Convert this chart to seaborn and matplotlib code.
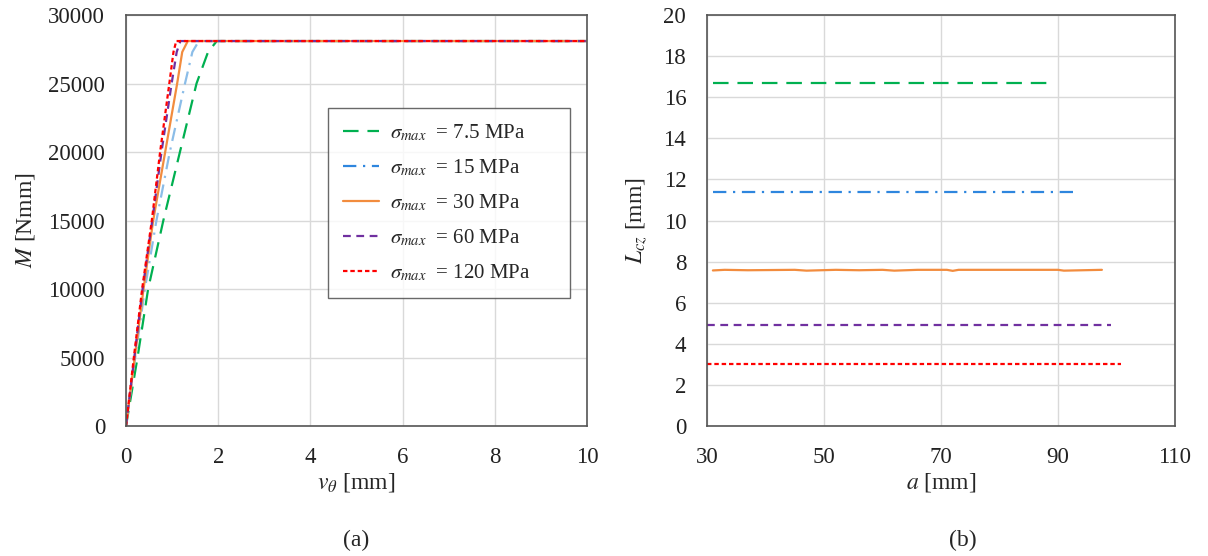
import numpy as np
import pandas as pd
import matplotlib
matplotlib.use("Agg")
import matplotlib.pyplot as plt
from matplotlib.lines import Line2D
import seaborn as sns

# ---- data ----
labels = [r"$\sigma_{max}\ $ = 7.5 MPa", r"$\sigma_{max}\ $ = 15 MPa", r"$\sigma_{max}\ $ = 30 MPa",
          r"$\sigma_{max}\ $ = 60 MPa", r"$\sigma_{max}\ $ = 120 MPa"]

# (a) M vs v_theta
m_levels = [0, 5000, 10000, 15000, 20000, 25000, 27300, 28100, 28100]
v_green = [0, 0.25, 0.48, 0.81, 1.17, 1.53, 1.78, 1.97, 10]
v_blue = [0, 0.20, 0.41, 0.66, 0.95, 1.28, 1.44, 1.58, 10]
v_orange = [0, 0.19, 0.38, 0.59, 0.85, 1.11, 1.22, 1.34, 10]
v_purple = [0, 0.18, 0.36, 0.57, 0.77, 0.99, 1.10, 1.18, 10]
v_red = [0, 0.17, 0.35, 0.56, 0.74, 0.94, 1.03, 1.09, 10]

# (b) L_cz vs a
a_green = [31, 89.5]
l_green = [16.7, 16.7]
a_blue = [31, 93]
l_blue = [11.4, 11.4]
a_orange = [31, 33, 37, 45, 47, 52, 56, 60, 62, 66, 71, 72, 73, 80, 90, 91, 97.5]
l_orange = [7.57, 7.6, 7.58, 7.6, 7.56, 7.6, 7.58, 7.6, 7.56, 7.6, 7.6, 7.55, 7.6, 7.6, 7.6, 7.56, 7.6]
a_purple = [30, 99]
l_purple = [4.9, 4.9]
a_red = [30, 100.7]
l_red = [3.0, 3.0]

colors = ["#00B050", "#2E86DE", "#F28C3E", "#7030A0", "#FF0000"]
colors_a = ["#00B050", "#8BBDE8", "#F28C3E", "#7030A0", "#FF0000"]
dashes = [(7, 4), (6, 3, 1, 3), (), (3.5, 2.5), (2, 1.3)]

sns.set_theme(style="whitegrid")
plt.rcParams['font.family'] = ['Liberation Serif', 'DejaVu Serif']
plt.rcParams['mathtext.fontset'] = 'stix'

fig = plt.figure(figsize=(12.08, 5.56), dpi=100)
ax1 = fig.add_axes([0.1043, 0.2338, 0.3816, 0.7392])
ax2 = fig.add_axes([0.5853, 0.2338, 0.3874, 0.7392])

va = [v_green, v_blue, v_orange, v_purple, v_red]
for i in range(5):
    df = pd.DataFrame({"v": va[i], "M": m_levels})
    sns.lineplot(data=df, x="v", y="M", ax=ax1, lw=1.6, color=colors_a[i],
                 sort=False, estimator=None)
    if dashes[i]:
        ax1.lines[-1].set_dashes(dashes[i])

ab = [(a_green, l_green), (a_blue, l_blue), (a_orange, l_orange), (a_purple, l_purple), (a_red, l_red)]
for i, (a, l) in enumerate(ab):
    df = pd.DataFrame({"a": a, "L": l})
    sns.lineplot(data=df, x="a", y="L", ax=ax2, lw=1.6, color=colors[i], sort=False, estimator=None)
    if dashes[i]:
        ax2.lines[-1].set_dashes(dashes[i])

leg_handles = []
for i in range(5):
    h = Line2D([], [], color=colors[i], lw=1.6)
    if dashes[i]:
        h.set_dashes(dashes[i])
    leg_handles.append(h)
leg = ax1.legend(leg_handles, labels, loc="upper left", bbox_to_anchor=(0.438, 0.0, 0.525, 0.774),
                 mode="expand",
                 borderaxespad=0, fontsize=15, frameon=True, fancybox=False, edgecolor="#444444",
                 handlelength=1.75, handletextpad=0.5, labelspacing=0.68, borderpad=0.72)
leg.get_frame().set_linewidth(1.0)

for ax in (ax1, ax2):
    ax.grid(True, color="#D9D9D9", lw=1.0)
    for s in ("top", "right", "left", "bottom"):
        ax.spines[s].set_visible(True)
        ax.spines[s].set_color("#555555")
        ax.spines[s].set_linewidth(1.2)
    ax.tick_params(axis="both", labelsize=16.5, length=0, pad=15, colors="#222222")

ax1.set_xlim(0, 10)
ax1.set_ylim(0, 30000)
ax1.set_xticks([0, 2, 4, 6, 8, 10])
ax1.set_yticks(range(0, 30001, 5000))
ax1.set_xlabel(r"$v_\theta$ [mm]", fontsize=17, labelpad=2)
ax1.set_ylabel(r"$M$ [Nmm]", fontsize=17, labelpad=8)

ax2.set_xlim(30, 110)
ax2.set_ylim(0, 20)
ax2.set_xticks([30, 50, 70, 90, 110])
ax2.set_yticks(range(0, 21, 2))
ax2.set_xlabel(r"$a$ [mm]", fontsize=17, labelpad=2)
ax2.set_ylabel(r"$L_{cz}$ [mm]", fontsize=17, labelpad=10)

fig.text(0.2947, 0.028, "(a)", fontsize=17, ha="center", va="center")
fig.text(0.797, 0.028, "(b)", fontsize=17, ha="center", va="center")

fig.savefig("out.png", dpi=100, facecolor="white")
